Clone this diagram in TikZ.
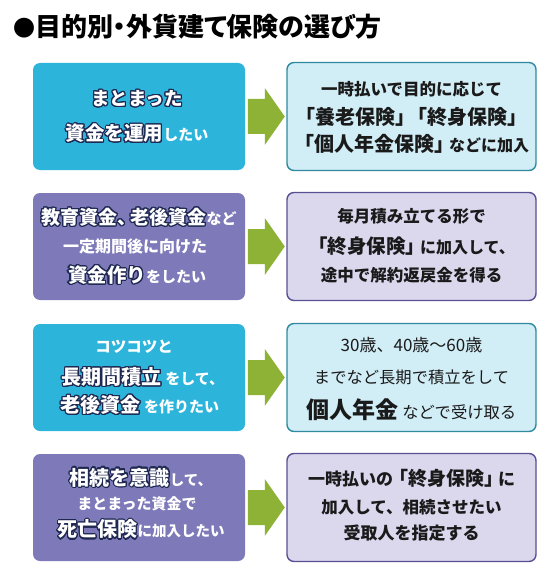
\documentclass[tikz,border=0pt]{standalone}
\usepackage{fontspec}
\setmainfont{Noto Sans CJK JP}
\usepackage[copies]{contour}
\usetikzlibrary{calc}
\contourlength{1.1pt}
\contournumber{20}
\definecolor{cCyan}{RGB}{45,180,218}
\definecolor{cPurple}{RGB}{126,121,184}
\definecolor{cLightBlue}{RGB}{209,237,246}
\definecolor{cBlueEdge}{RGB}{47,138,160}
\definecolor{cLavender}{RGB}{219,216,238}
\definecolor{cPurpleEdge}{RGB}{87,80,146}
\definecolor{cArrow}{RGB}{141,178,54}
\definecolor{cOutline}{RGB}{30,40,80}
\definecolor{cText}{RGB}{26,26,26}
\newcommand\fsz[1]{\fontsize{#1}{#1}\selectfont}
\newcommand\olt[1]{\contour{cOutline}{#1}}
\newcommand\pal{\addfontfeatures{RawFeature=+palt}}
\begin{document}
\begin{tikzpicture}[x=1pt,y=-1pt,
  lbox/.style={rounded corners=7pt, minimum width=212pt, minimum height=107pt, inner sep=0pt},
  leftcyan/.style={lbox, fill=cCyan},
  leftpurple/.style={lbox, fill=cPurple},
  rbox/.style={rounded corners=7pt, minimum width=249pt, minimum height=108pt, inner sep=0pt, line width=1.4pt},
  rightblue/.style={rbox, fill=cLightBlue, draw=cBlueEdge},
  rightpurple/.style={rbox, fill=cLavender, draw=cPurpleEdge},
  txt/.style={inner sep=0pt, anchor=center},
  wtxt/.style={txt, text=white, font=\bfseries},
  dtxt/.style={txt, text=cText, font=\bfseries},
  rtxt/.style={txt, text=cText},
  blockarrow/.style={fill=cArrow}
]
\useasboundingbox (0,0) rectangle (551,580);

% title
\node[txt, anchor=west, font=\bfseries] (title) at (13,27) {\fsz{22}●\fsz{26}目的別\pal ・\fsz{26}外貨建て保険の選び方};

% boxes
\node[leftcyan]   (L1) at (139,116.5) {};
\node[rightblue]  (R1) at (411.5,116.5) {};
\node[leftpurple] (L2) at (139,246.5) {};
\node[rightpurple](R2) at (411.5,246.5) {};
\node[leftcyan]   (L3) at (139,377.5) {};
\node[rightblue]  (R3) at (411.5,377.5) {};
\node[leftpurple] (L4) at (139,507.5) {};
\node[rightpurple](R4) at (411.5,507.5) {};

% arrows
\foreach \r in {1,2,3,4}{
  \coordinate (A\r) at ($(L\r.east)!0.5!(R\r.west)$);
  \fill[blockarrow] ($(A\r)+(-18,-17.5)$) -- ($(A\r)+(-1,-17.5)$) -- ($(A\r)+(-1,-28.5)$)
    -- ($(A\r)+(19,0)$) -- ($(A\r)+(-1,28.5)$) -- ($(A\r)+(-1,17.5)$) -- ($(A\r)+(-18,17.5)$) -- cycle;
}

% row 1
\node[wtxt] (t1a) at ($(L1.center)+(-2,-17.5)$) {\fsz{18.5}\olt{まとまった}};
\node[wtxt] (t1b) at ($(L1.center)+(-2,17.5)$) {\fsz{19.5}\olt{資金を運用}\fsz{15}したい};
\node[dtxt] (u1a) at ($(R1.center)+(0,-27)$) {\fsz{16.5}一時払いで目的に応じて};
\node[dtxt] (u1b) at ($(R1.center)+(0,0)$) {\fsz{20}「養老保険」\hspace{-8pt}「終身保険」};
\node[dtxt] (u1c) at ($(R1.center)+(0,27)$) {\fsz{20}「個人年金保険」\hspace{-5pt}\fsz{16}などに加入};

% row 2
\node[wtxt] (t2a) at ($(L2.center)+(0,-29)$) {\fsz{19}\olt{教育資金、}\hspace{-6pt}\olt{老後資金}\fsz{15}など};
\node[wtxt] (t2b) at ($(L2.center)+(-4,0)$) {\fsz{16}一定期間後に向けた};
\node[wtxt] (t2c) at ($(L2.center)+(-2,29)$) {\fsz{19.5}\olt{資金作り}\fsz{15}をしたい};
\node[dtxt] (u2a) at ($(R2.center)+(0,-30)$) {\fsz{16.5}毎月積み立てる形で};
\node[dtxt] (u2b) at ($(R2.center)+(0,0)$) {\fsz{19.5}「終身保険」\hspace{-5pt}\fsz{16}に加入して、};
\node[dtxt] (u2c) at ($(R2.center)+(0,29)$) {\fsz{16.5}途中で解約返戻金を得る};

% row 3
\node[wtxt] (t3a) at ($(L3.center)+(-5,-31)$) {\fsz{15.5}コツコツと};
\node[wtxt] (t3b) at ($(L3.center)+(4,0)$) {\fsz{20}\olt{長期間積立}\fsz{15} をして、};
\node[wtxt] (t3c) at ($(L3.center)+(1,28)$) {\fsz{20}\olt{老後資金}\fsz{15} を作りたい};
\node[rtxt] (u3a) at ($(R3.center)+(0,-32)$) {\fsz{17}30歳、40歳～60歳};
\node[rtxt] (u3b) at ($(R3.center)+(0,0)$) {\fsz{16.3}までなど長期で積立をして};
\node[rtxt] (u3c) at ($(R3.center)+(0,32)$) {\fsz{23}\textbf{個人年金}\fsz{16.3} などで受け取る};

% row 4
\node[wtxt] (t4a) at ($(L4.center)+(2,-29.5)$) {\fsz{20}\olt{相続を意識}\fsz{14.5}して、};
\node[wtxt] (t4b) at ($(L4.center)+(-2,-4)$) {\fsz{15}まとまった資金で};
\node[wtxt] (t4c) at ($(L4.center)+(2,22.5)$) {\fsz{20}\olt{死亡保険}\fsz{14.5}に加入したい};
\node[dtxt] (u4a) at ($(R4.center)+(0,-29.5)$) {\fsz{17}一時払いの\hspace{-4pt}\fsz{19}「終身保険」\hspace{-5pt}\fsz{17}に};
\node[dtxt] (u4b) at ($(R4.center)+(0,0)$) {\fsz{16.5}加入して、相続させたい};
\node[dtxt] (u4c) at ($(R4.center)+(0,26)$) {\fsz{17}受取人を指定する};
\end{tikzpicture}
\end{document}
